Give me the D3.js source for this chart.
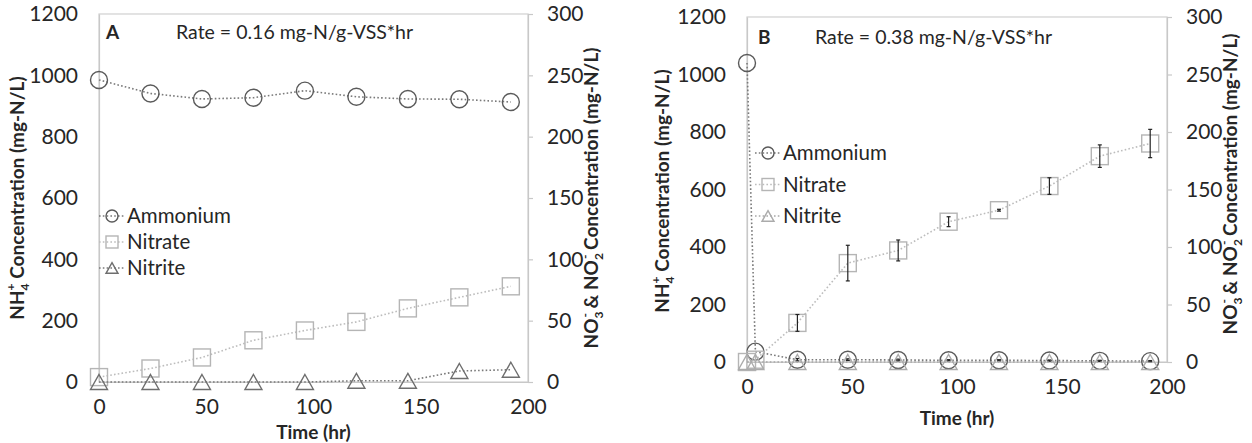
<!DOCTYPE html>
<html lang="en">
<head>
<meta charset="utf-8">
<title>Ammonium / nitrate / nitrite over time</title>
<script src="https://cdn.jsdelivr.net/npm/d3@7"></script>
<style>
  body { margin: 0; background: #fff; }
  text { font-family: Lato, "Open Sans", sans-serif; fill: #262626; }
</style>
</head>
<body>
<script>
// ---- data ----
var timeA = [0, 24, 48, 72, 96, 120, 144, 168, 192];
var ammoniumA = [985, 941, 923, 927, 950, 930, 923, 922, 913];
var nitrateA = [4, 11, 20, 34, 42, 49, 60, 69, 78];
var nitriteA = [0, 0, 0, 0, 0, 1, 1, 9, 10];

var timeB = [0, 4, 24, 48, 72, 96, 120, 144, 168, 192];
var ammoniumB = [1040, 36, 8, 8, 7, 6, 6, 5, 4, 3];
var ammoniumErrB = [0, 0, 4, 3, 3, 2, 2, 2, 2, 2];
var nitrateB = [0, 2, 34, 86, 97, 122, 132, 153, 179, 190];
var nitrateErrB = [0, 0, 7.3, 15.5, 9.1, 4.3, 0.8, 7.2, 9.8, 12.3];
var nitriteB = [0, 0, 0, 0, 0, 0, 0, 0, 0, 0];

var xTicks = [0, 50, 100, 150, 200];
var leftTicks = [0, 200, 400, 600, 800, 1000, 1200];
var rightTicks = [0, 50, 100, 150, 200, 250, 300];
var seriesNames = ["Ammonium", "Nitrate", "Nitrite"];

var W = 1252, H = 443;
var svg = d3.select("body").append("svg")
  .attr("width", W).attr("height", H);
svg.append("rect").attr("width", W).attr("height", H).attr("fill", "#fff");

function marker(g, shape, x, y, s, color) {
  if (shape == "circle") {
    g.append("circle").attr("cx", x).attr("cy", y).attr("r", s / 2)
      .attr("fill", "none").attr("stroke", color).attr("stroke-width", 1.4);
  } else if (shape == "square") {
    g.append("rect").attr("x", x - s / 2).attr("y", y - s / 2)
      .attr("width", s).attr("height", s)
      .attr("fill", "none").attr("stroke", color).attr("stroke-width", 1.4);
  } else {
    var h = s * 0.88;
    g.append("path")
      .attr("d", "M" + x + "," + (y - h / 2) + "L" + (x + s / 2) + "," + (y + h / 2) + "L" + (x - s / 2) + "," + (y + h / 2) + "Z")
      .attr("fill", "none").attr("stroke", color).attr("stroke-width", 1.4);
  }
}

function drawPanel(p) {
  var g = svg.append("g");
  var x = d3.scaleLinear().domain([0, 200]).range([p.x0, p.x1]);
  var yL = d3.scaleLinear().domain([0, 1200]).range([p.y1, p.y0]);
  var yR = d3.scaleLinear().domain([0, 300]).range([p.y1, p.y0]);
  var fmt = d3.format("d");

  // plot frame
  g.append("rect").attr("x", p.x0).attr("y", p.y0)
    .attr("width", p.x1 - p.x0).attr("height", p.y1 - p.y0)
    .attr("fill", "none").attr("stroke", "#d0d0d0").attr("stroke-width", 1.2);

  // axes
  var ax = g.append("g").attr("transform", "translate(0," + p.y1 + ")")
    .call(d3.axisBottom(x).tickValues(xTicks).tickFormat(fmt).tickSize(0).tickPadding(17));
  var al = g.append("g").attr("transform", "translate(" + p.x0 + ",0)")
    .call(d3.axisLeft(yL).tickValues(leftTicks).tickFormat(fmt).tickSize(0).tickPadding(21));
  var ar = g.append("g").attr("transform", "translate(" + p.x1 + ",0)")
    .call(d3.axisRight(yR).tickValues(rightTicks).tickFormat(fmt).tickSize(5).tickPadding(14));
  [ax, al, ar].forEach(function (a) {
    a.select(".domain").attr("stroke", "#c8c8c8").attr("stroke-width", 1.2);
    a.selectAll("line").attr("stroke", "#c8c8c8").attr("stroke-width", 1.2);
    a.selectAll("text").attr("font-size", 21).attr("fill", "#262626")
      .style("font-family", "Lato, 'Open Sans', sans-serif");
  });

  // lines
  var dash = "1.6,2.2";
  function drawSeries(times, vals, ys, shape, lineColor, mColor, errs) {
    var line = d3.line().x(function (d, i) { return x(times[i]); })
      .y(function (d) { return ys(d); });
    g.append("path").datum(vals).attr("d", line)
      .attr("fill", "none").attr("stroke", lineColor)
      .attr("stroke-width", 1.6).attr("stroke-dasharray", dash);
    vals.forEach(function (v, i) {
      marker(g, shape, x(times[i]), ys(v), 17, mColor);
    });
    if (errs) {
      vals.forEach(function (v, i) {
        if (!errs[i]) return;
        var cx = x(times[i]);
        var t = ys(v + errs[i]), b = ys(v - errs[i]);
        g.append("line").attr("x1", cx).attr("x2", cx).attr("y1", t).attr("y2", b)
          .attr("stroke", "#222").attr("stroke-width", 1.2);
        [t, b].forEach(function (yy) {
          g.append("line").attr("x1", cx - 2).attr("x2", cx + 2).attr("y1", yy).attr("y2", yy)
            .attr("stroke", "#222").attr("stroke-width", 1.2);
        });
      });
    }
  }
  drawSeries(p.time, p.ammonium, yL, "circle", "#7a7a7a", "#5a5a5a", p.ammoniumErr);
  drawSeries(p.time, p.nitrate, yR, "square", "#bdbdbd", "#b5b5b5", p.nitrateErr);
  drawSeries(p.time, p.nitrite, yR, "triangle", p.nitriteLine, p.nitriteColor, null);

  // legend
  var shapes = ["circle", "square", "triangle"];
  var lcol = ["#7a7a7a", "#bdbdbd", p.nitriteLine];
  var mcol = ["#5a5a5a", "#b5b5b5", p.nitriteColor];
  seriesNames.forEach(function (name, i) {
    var yy = p.legY + i * p.legGap;
    g.append("line").attr("x1", p.legX).attr("x2", p.legX + 26)
      .attr("y1", yy).attr("y2", yy).attr("stroke", lcol[i])
      .attr("stroke-width", 1.6).attr("stroke-dasharray", dash);
    marker(g, shapes[i], p.legX + 13, yy, 12, mcol[i]);
    g.append("text").attr("x", p.legX + 28).attr("y", yy).attr("dy", "0.35em")
      .attr("font-size", 20.5).text(name);
  });

  // panel label and rate
  g.append("text").attr("x", p.labX).attr("y", p.labY).attr("font-size", 19)
    .attr("font-weight", "bold").text(p.label);
  g.append("text").attr("x", p.rateX).attr("y", p.labY).attr("font-size", 19.5)
    .text(p.rate);

  // axis titles
  g.append("text").attr("x", (p.x0 + p.x1) / 2).attr("y", p.xTitleY)
    .attr("text-anchor", "middle").attr("font-size", 19).attr("font-weight", "bold")
    .text("Time (hr)");

  var lt = g.append("text").attr("text-anchor", "middle").attr("font-size", 19)
    .attr("font-weight", "bold")
    .attr("transform", "translate(" + p.lTitleX + "," + p.lTitleY + ") rotate(-90)");
  lt.append("tspan").text("NH");
  lt.append("tspan").attr("font-size", 12).attr("dy", 5).text("4");
  lt.append("tspan").attr("font-size", 12).attr("dx", -7).attr("dy", -14).text("+");
  lt.append("tspan").attr("dy", 9).text(" Concentration (mg-N/L)");

  var rt = g.append("text").attr("text-anchor", "middle").attr("font-size", 19)
    .attr("font-weight", "bold")
    .attr("transform", "translate(" + p.rTitleX + "," + p.rTitleY + ") rotate(-90)");
  rt.append("tspan").text("NO");
  rt.append("tspan").attr("font-size", 12).attr("dy", 5).text("3");
  rt.append("tspan").attr("font-size", 12).attr("dx", -6).attr("dy", -14).text("-");
  rt.append("tspan").attr("dy", 9).text(" & NO");
  rt.append("tspan").attr("font-size", 12).attr("dy", 5).text("2");
  rt.append("tspan").attr("font-size", 12).attr("dx", -6).attr("dy", -14).text("-");
  rt.append("tspan").attr("dy", 9).text(" Concentration (mg-N/L)");
}

drawPanel({
  x0: 99, x1: 528, y0: 14, y1: 382,
  time: timeA, ammonium: ammoniumA, nitrate: nitrateA, nitrite: nitriteA,
  ammoniumErr: null, nitrateErr: null,
  nitriteLine: "#7a7a7a", nitriteColor: "#6e6e6e",
  legX: 99, legY: 216, legGap: 26,
  label: "A", labX: 106, labY: 39, rate: "Rate = 0.16 mg-N/g-VSS*hr", rateX: 176,
  xTitleY: 439, lTitleX: 24, lTitleY: 198, rTitleX: 598, rTitleY: 198
});

drawPanel({
  x0: 747, x1: 1167, y0: 17, y1: 362,
  time: timeB, ammonium: ammoniumB, nitrate: nitrateB, nitrite: nitriteB,
  ammoniumErr: ammoniumErrB, nitrateErr: nitrateErrB,
  nitriteLine: "#a8a8a8", nitriteColor: "#ababab",
  legX: 755, legY: 153, legGap: 31.5,
  label: "B", labX: 758, labY: 44, rate: "Rate = 0.38 mg-N/g-VSS*hr", rateX: 815,
  xTitleY: 425, lTitleX: 669, lTitleY: 191, rTitleX: 1237, rTitleY: 184
});
</script>
</body>
</html>
